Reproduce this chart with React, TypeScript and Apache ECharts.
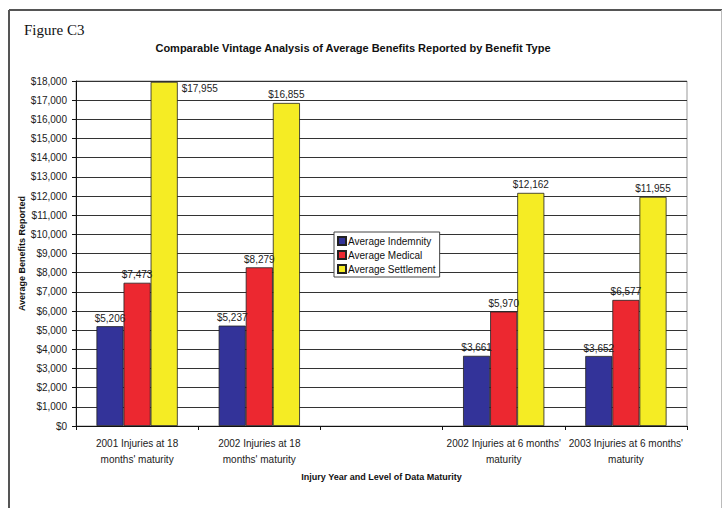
import React, { useEffect, useRef } from "react";
import * as echarts from "echarts";

const categories = [
  "2001 Injuries at 18\nmonths' maturity",
  "2002 Injuries at 18\nmonths' maturity",
  "",
  "2002 Injuries at 6 months'\nmaturity",
  "2003 Injuries at 6 months'\nmaturity",
];
const indemnity = [5206, 5237, null, 3661, 3652];
const medical = [7473, 8279, null, 5970, 6577];
const settlement = [17955, 16855, null, 12162, 11955];
const seriesNames = ["Average Indemnity", "Average Medical", "Average Settlement"];
const colors = ["#333399", "#EC2830", "#F5EC24"];

const fmt = (v: number) => "$" + v.toLocaleString("en-US");

export default function App() {
  const ref = useRef<HTMLDivElement>(null);
  useEffect(() => {
    if (!ref.current) return;
    const chart = echarts.init(ref.current, null, { renderer: "svg" });
    const font = "Arial, 'Liberation Sans', sans-serif";
    const mkSeries = (name: string, data: (number | null)[], color: string, special?: boolean) => ({
      name,
      type: "bar",
      barGap: "0%",
      barCategoryGap: "33.5%",
      data: data.map((v, i) =>
        special && i === 0
          ? { value: v, label: { position: [31, 2] } }
          : v
      ),
      itemStyle: { color, borderColor: "#222", borderWidth: 0.8 },
      label: {
        show: true,
        position: "top",
        distance: 3,
        fontFamily: font,
        fontSize: 10,
        color: "#222",
        formatter: (p: any) => (p.value == null ? "" : fmt(p.value)),
      },
    });
    chart.setOption({
      animation: false,
      backgroundColor: "#fff",
      title: [
        {
          text: "Figure C3",
          left: 19,
          top: 17,
          textStyle: { fontFamily: "'Liberation Serif', 'Times New Roman', serif", fontSize: 15, fontWeight: "normal", color: "#111" },
        },
        {
          text: "Comparable Vintage Analysis of Average Benefits Reported by Benefit Type",
          left: 348,
          textAlign: "center",
          top: 37,
          textStyle: { fontFamily: font, fontSize: 11, fontWeight: "bold", color: "#111" },
        },
      ],
      legend: {
        orient: "vertical",
        left: 334,
        top: 232,
        itemWidth: 8,
        itemHeight: 8,
        itemGap: 4,
        padding: [4, 4, 3, 3],
        borderColor: "#444",
        borderWidth: 1,
        backgroundColor: "#fff",
        icon: "rect",
        textStyle: { fontFamily: font, fontSize: 10, color: "#111", padding: [0, 0, 0, -3] },
        data: seriesNames,
      },
      grid: {
        left: 76,
        right: 36,
        top: 81,
        bottom: 82,
        show: true,
        borderColor: "#999",
        borderWidth: 1,
        containLabel: false,
      },
      xAxis: {
        type: "category",
        data: categories,
        name: "Injury Year and Level of Data Maturity",
        nameLocation: "middle",
        nameGap: 46,
        nameTextStyle: { fontFamily: font, fontSize: 9, fontWeight: "bold", color: "#111" },
        axisLine: { lineStyle: { color: "#111", width: 1 } },
        axisTick: { show: true, length: 4, lineStyle: { color: "#111" } },
        axisLabel: { fontFamily: font, fontSize: 10, color: "#222", lineHeight: 16, margin: 9, interval: 0 },
      },
      yAxis: {
        type: "value",
        min: 0,
        max: 18000,
        interval: 1000,
        name: "Average Benefits Reported",
        nameLocation: "middle",
        nameGap: 50,
        nameMoveOverlap: false,
        nameTextStyle: { fontFamily: font, fontSize: 9, fontWeight: "bold", color: "#111" },
        axisLine: { show: true, lineStyle: { color: "#111" } },
        axisTick: { show: true, length: 4, lineStyle: { color: "#111" } },
        axisLabel: {
          fontFamily: font,
          fontSize: 10,
          color: "#222",
          margin: 9,
          formatter: (v: number) => fmt(v),
        },
        splitLine: { lineStyle: { color: "#333", width: 1 } },
      },
      graphic: [
        { type: "line", shape: { x1: 9, y1: 10, x2: 722, y2: 10 }, style: { stroke: "#555", lineWidth: 2 } },
        { type: "line", shape: { x1: 9, y1: 10, x2: 9, y2: 508 }, style: { stroke: "#555", lineWidth: 2 } },
        { type: "line", shape: { x1: 721.5, y1: 10, x2: 721.5, y2: 508 }, style: { stroke: "#bbb", lineWidth: 1 } },
      ],
      series: [
        mkSeries(seriesNames[0], indemnity, colors[0]),
        mkSeries(seriesNames[1], medical, colors[1]),
        mkSeries(seriesNames[2], settlement, colors[2], true),
      ],
    });
    return () => chart.dispose();
  }, []);
  return (
    <div
      ref={ref}
      style={{ position: "fixed", left: 0, top: 0, width: 723, height: 508 }}
    />
  );
}
